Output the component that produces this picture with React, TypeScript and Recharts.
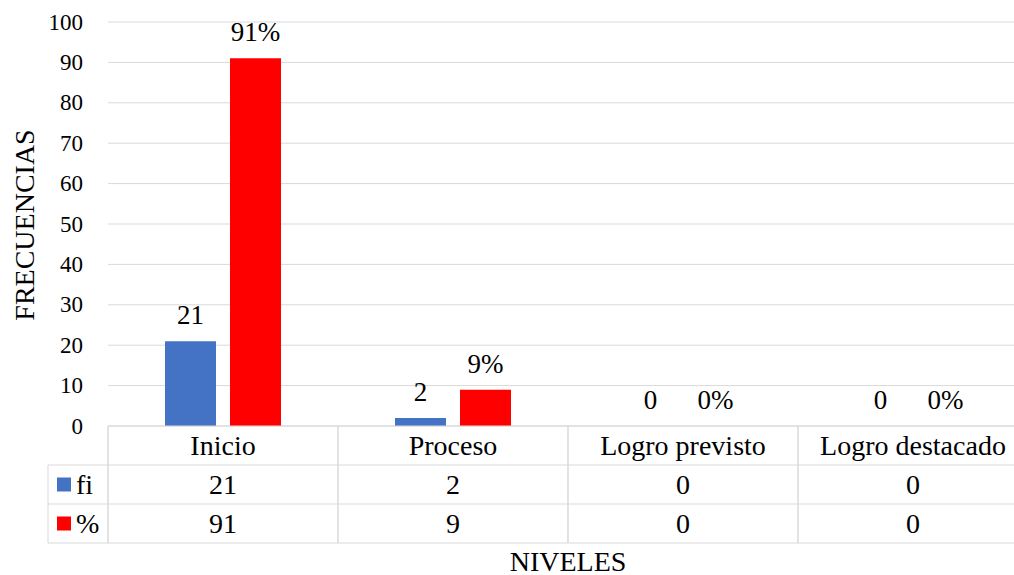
import React from "react";
import {
    BarChart,
    Bar,
    XAxis,
    YAxis,
    CartesianGrid,
    LabelList,
    Customized,
} from "recharts";

const CATEGORIES = ["Inicio", "Proceso", "Logro previsto", "Logro destacado"];
const FI_VALUES = [21, 2, 0, 0];
const PCT_VALUES = [91, 9, 0, 0];
const Y_TICKS = [0, 10, 20, 30, 40, 50, 60, 70, 80, 90, 100];

const SERIES = [
    { key: "fi", label: "fi", color: "#4472C4", suffix: "" },
    { key: "pct", label: "%", color: "#FF0000", suffix: "%" },
];

const FONT = "Liberation Serif";
const GRID = "#d9d9d9";
const CHART_W = 1030;
const CHART_H = 575;
const MARGIN = { top: 22, right: 2, bottom: 32, left: 48 };
const Y_W = 60;
const ROW_H = 39;
const X_H = ROW_H * 3;
const CELL_W = (CHART_W - MARGIN.left - Y_W - MARGIN.right) / CATEGORIES.length;

const data = CATEGORIES.map((name, i) => ({
    name,
    fi: FI_VALUES[i],
    pct: PCT_VALUES[i],
}));

const txt = { fontFamily: FONT, fontSize: 28, fill: "#000" };
const tickTxt = { fontFamily: FONT, fontSize: 23, fill: "#000" };
const labelTxt = { fontFamily: FONT, fontSize: 27, fill: "#000" };

// one column of the data table under each category
const TableTick = (props: any) => {
    const { x, y, payload, index } = props;
    const left = x - CELL_W / 2;
    const right = x + CELL_W / 2;
    const rows = [payload.value, FI_VALUES[index], PCT_VALUES[index]];
    return (
        <g>
            <line x1={left} x2={left} y1={y} y2={y + X_H} stroke={GRID} />
            <line x1={right} x2={right} y1={y} y2={y + X_H} stroke={GRID} />
            {[1, 2, 3].map((r) => (
                <line
                    key={r}
                    x1={left}
                    x2={right}
                    y1={y + r * ROW_H}
                    y2={y + r * ROW_H}
                    stroke={GRID}
                />
            ))}
            {rows.map((v, r) => (
                <text
                    key={r}
                    x={x}
                    y={y + ROW_H * (r + 0.5)}
                    textAnchor="middle"
                    dominantBaseline="central"
                    style={txt}
                >
                    {v}
                </text>
            ))}
        </g>
    );
};

const YTick = (props: any) => {
    const { x, y, payload } = props;
    return (
        <text x={x} y={y} textAnchor="end" dominantBaseline="central" style={tickTxt}>
            {payload.value}
        </text>
    );
};

// legend column of the table + axis titles
const Extras = () => {
    const top = CHART_H - MARGIN.bottom - X_H;
    const colL = MARGIN.left;
    const colR = MARGIN.left + Y_W;
    const plotR = CHART_W - MARGIN.right;
    return (
        <g>
            <line x1={colL} x2={colL} y1={top + ROW_H} y2={top + X_H} stroke={GRID} />
            <line x1={colR} x2={colR} y1={top} y2={top + X_H} stroke={GRID} />
            {[1, 2, 3].map((r) => (
                <line
                    key={r}
                    x1={colL}
                    x2={colR}
                    y1={top + r * ROW_H}
                    y2={top + r * ROW_H}
                    stroke={GRID}
                />
            ))}
            {SERIES.map((s, i) => {
                const cy = top + ROW_H * (1.5 + i);
                return (
                    <g key={s.key}>
                        <rect x={colL + 9} y={cy - 7} width={14} height={14} fill={s.color} />
                        <text x={colL + 28} y={cy} dominantBaseline="central" style={txt}>
                            {s.label}
                        </text>
                    </g>
                );
            })}
            <text
                x={24}
                y={(MARGIN.top + top) / 2 + 1}
                transform={`rotate(-90 24 ${(MARGIN.top + top) / 2 + 1})`}
                textAnchor="middle"
                dominantBaseline="central"
                style={txt}
            >
                FRECUENCIAS
            </text>
            <text
                x={(colR + plotR) / 2}
                y={561}
                textAnchor="middle"
                dominantBaseline="central"
                style={txt}
            >
                NIVELES
            </text>
        </g>
    );
};

// value label above each bar, also drawn for zero-height bars
const BarLabel = (suffix: string) => (props: any) => {
    const { x, y, width, value } = props;
    return (
        <text x={x + width / 2} y={y - 17} textAnchor="middle" style={labelTxt}>
            {`${value}${suffix}`}
        </text>
    );
};

export default function App() {
    return (
        <div
            style={{
                position: "absolute",
                left: 0,
                top: 0,
                width: 1014,
                height: 575,
                overflow: "hidden",
                background: "#fff",
                fontFamily: FONT,
            }}
        >
            <BarChart
                width={CHART_W}
                height={CHART_H}
                data={data}
                margin={MARGIN}
                barSize={51}
                barGap={14}
                style={{ fontFamily: FONT }}
            >
                <CartesianGrid vertical={false} stroke={GRID} />
                <XAxis
                    dataKey="name"
                    height={X_H}
                    tickSize={0}
                    tickMargin={0}
                    tickLine={false}
                    axisLine={{ stroke: GRID }}
                    tick={<TableTick />}
                    interval={0}
                />
                <YAxis
                    width={Y_W}
                    domain={[0, 100]}
                    ticks={Y_TICKS}
                    tickLine={false}
                    axisLine={false}
                    tickMargin={19}
                    tick={<YTick />}
                />
                {SERIES.map((s) => (
                    <Bar
                        key={s.key}
                        dataKey={s.key}
                        fill={s.color}
                        minPointSize={0.01}
                        isAnimationActive={false}
                    >
                        <LabelList dataKey={s.key} content={BarLabel(s.suffix)} />
                    </Bar>
                ))}
                <Customized component={Extras} />
            </BarChart>
        </div>
    );
}
